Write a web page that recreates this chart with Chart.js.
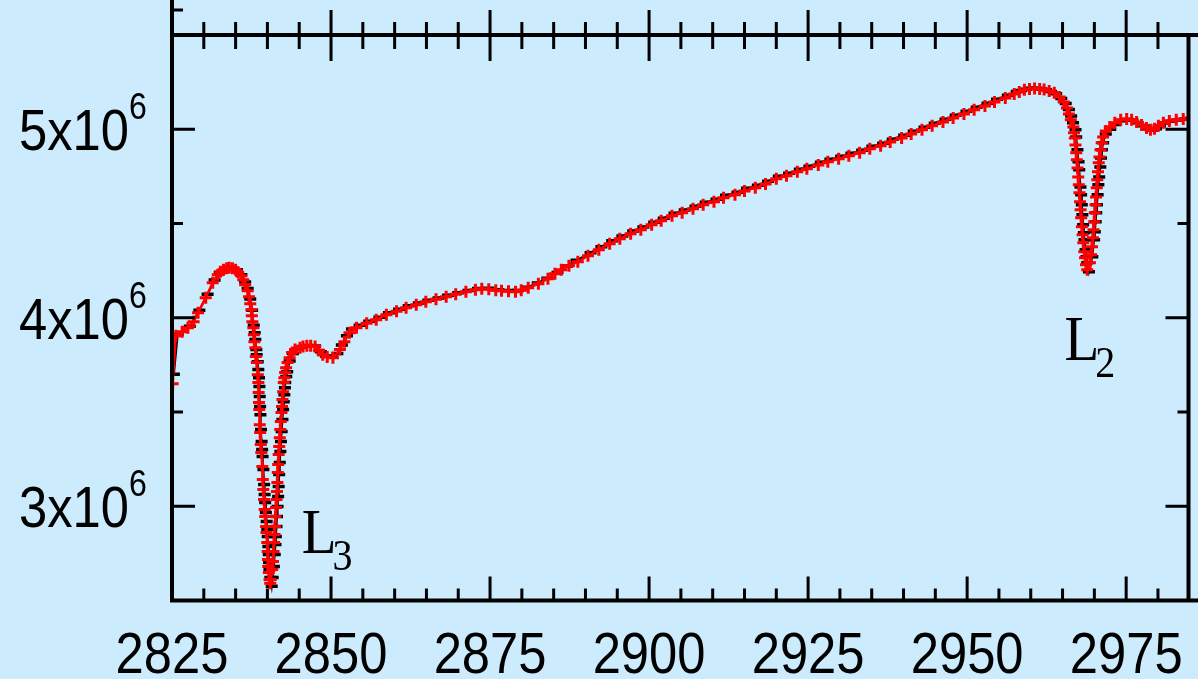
<!DOCTYPE html>
<html>
<head>
<meta charset="utf-8">
<script src="https://cdn.jsdelivr.net/npm/chart.js@4.4.0/dist/chart.umd.min.js"></script>
<style>
  html, body { margin: 0; padding: 0; background: #ccebfc; }
  #wrap { width: 1198px; height: 679px; position: relative; }
</style>
</head>
<body>
<div id="wrap"><canvas id="spectrum"></canvas></div>
<script>
// axis ranges (energy in eV, intensity in units of 10^6)
const xMin = 2825, xMax = 2984.8;
const yMin = 2.5, yMax = 5.5;
const xTickLabels = [2825, 2850, 2875, 2900, 2925, 2950, 2975];
const yTickLabels = [3, 4, 5];
const yTickExponent = '6';

// edge labels: [main, subscript, x, y of baseline]
const edgeLabels = [
    ['L', '3', 2845.4, 2.752],
    ['L', '2', 2965.3, 3.776]
];

// red series (crosses + line)
const redSeries = [
    [2825.1, 3.65], [2825.6, 3.905], [2826.6, 3.926], [2827.5, 3.947], [2828.4, 3.979],
    [2829.1, 4.027], [2830.3, 4.106], [2831.4, 4.186], [2832.2, 4.228], [2832.6, 4.244],
    [2833.1, 4.255], [2833.6, 4.263], [2834.0, 4.265], [2834.5, 4.263], [2835.0, 4.255],
    [2835.4, 4.241], [2835.9, 4.223], [2836.2, 4.202], [2836.5, 4.175], [2836.9, 4.143],
    [2837.1, 4.112], [2837.3, 4.074], [2837.48, 4.043], [2837.55, 4.011], [2837.64, 3.979],
    [2837.79, 3.947], [2837.87, 3.910], [2837.95, 3.873], [2838.10, 3.841], [2838.18, 3.794],
    [2838.34, 3.762], [2838.49, 3.698], [2838.57, 3.656], [2838.62, 3.603], [2838.67, 3.550],
    [2838.72, 3.513], [2838.80, 3.433], [2838.86, 3.391], [2838.96, 3.327], [2839.04, 3.285],
    [2839.20, 3.211], [2839.27, 3.142], [2839.35, 3.089], [2839.46, 3.036], [2839.57, 2.983],
    [2839.66, 2.946], [2839.79, 2.893], [2839.85, 2.861], [2839.98, 2.808], [2840.04, 2.760],
    [2840.09, 2.718], [2840.13, 2.681], [2840.23, 2.649], [2840.34, 2.612], [2840.44, 2.591],
    [2840.52, 2.612], [2840.76, 2.665], [2840.88, 2.707], [2840.96, 2.760], [2841.04, 2.808],
    [2841.12, 2.850], [2841.19, 2.893], [2841.27, 2.946], [2841.35, 2.993], [2841.44, 3.036],
    [2841.51, 3.078], [2841.57, 3.126], [2841.63, 3.179], [2841.69, 3.221], [2841.77, 3.274],
    [2841.85, 3.317], [2841.94, 3.364], [2842.02, 3.407], [2842.10, 3.449], [2842.21, 3.497],
    [2842.29, 3.529], [2842.36, 3.566], [2842.47, 3.608], [2842.57, 3.656], [2842.66, 3.682],
    [2842.78, 3.709], [2842.94, 3.735], [2843.17, 3.762], [2843.49, 3.788], [2843.88, 3.815],
    [2844.34, 3.831], [2845.12, 3.841], [2845.6, 3.848], [2846.2, 3.852], [2846.8, 3.851],
    [2847.5, 3.847], [2848.1, 3.828], [2848.7, 3.804], [2849.4, 3.792], [2850.3, 3.788],
    [2851.4, 3.831], [2852.1, 3.873], [2852.9, 3.921], [2854.0, 3.947], [2855.6, 3.971],
    [2857.1, 3.990], [2858.7, 4.016], [2860.3, 4.035], [2861.8, 4.053], [2863.4, 4.069],
    [2864.9, 4.085], [2866.5, 4.098], [2868.1, 4.112], [2869.6, 4.125], [2871.2, 4.138],
    [2872.7, 4.149], [2873.7, 4.154], [2874.8, 4.151], [2875.9, 4.146], [2876.8, 4.143],
    [2877.9, 4.141], [2879.0, 4.138], [2879.9, 4.146], [2881.0, 4.159], [2882.6, 4.180],
    [2884.1, 4.207], [2885.2, 4.233], [2886.2, 4.255], [2887.4, 4.276], [2888.8, 4.297],
    [2890.4, 4.329], [2892.1, 4.361], [2893.8, 4.392], [2895.4, 4.419], [2897.1, 4.446],
    [2898.7, 4.467], [2900.4, 4.493], [2901.9, 4.514], [2903.6, 4.541], [2905.2, 4.557],
    [2906.9, 4.578], [2908.5, 4.599], [2910.2, 4.615], [2911.7, 4.636], [2913.5, 4.652],
    [2915.0, 4.673], [2916.7, 4.689], [2918.3, 4.710], [2920.0, 4.737], [2921.6, 4.753],
    [2923.3, 4.774], [2924.8, 4.790], [2926.6, 4.811], [2928.1, 4.827], [2929.8, 4.843],
    [2931.4, 4.859], [2933.1, 4.875], [2934.7, 4.896], [2936.4, 4.912], [2937.9, 4.933],
    [2939.7, 4.954], [2941.2, 4.975], [2942.9, 4.997], [2944.5, 5.018], [2946.2, 5.039],
    [2947.8, 5.060], [2949.5, 5.081], [2951.1, 5.103], [2952.8, 5.124], [2954.3, 5.145],
    [2956.0, 5.166], [2957.4, 5.187], [2958.2, 5.198], [2959.0, 5.209], [2959.8, 5.214],
    [2960.6, 5.216], [2961.4, 5.214], [2962.1, 5.211], [2962.9, 5.203], [2963.7, 5.193],
    [2964.5, 5.171], [2965.2, 5.145], [2965.7, 5.113], [2966.0, 5.081], [2966.3, 5.050],
    [2966.7, 5.012], [2966.8, 4.981], [2966.93, 4.954], [2967.04, 4.917], [2967.15, 4.875],
    [2967.25, 4.838], [2967.36, 4.795], [2967.46, 4.747], [2967.56, 4.705], [2967.65, 4.663],
    [2967.75, 4.615], [2967.84, 4.573], [2967.93, 4.530], [2968.04, 4.483], [2968.15, 4.440],
    [2968.26, 4.398], [2968.42, 4.350], [2968.54, 4.318], [2968.68, 4.281], [2968.88, 4.255],
    [2969.31, 4.292], [2969.49, 4.334], [2969.63, 4.377], [2969.76, 4.424], [2969.87, 4.467],
    [2969.98, 4.509], [2970.07, 4.557], [2970.18, 4.599], [2970.27, 4.641], [2970.37, 4.689],
    [2970.46, 4.732], [2970.57, 4.774], [2970.69, 4.822], [2970.80, 4.853], [2970.96, 4.891],
    [2971.15, 4.928], [2971.38, 4.959], [2971.80, 4.991], [2972.43, 5.012], [2973.21, 5.034],
    [2974.14, 5.050], [2975.08, 5.055], [2975.86, 5.050], [2976.64, 5.039], [2977.42, 5.023],
    [2978.20, 5.007], [2978.82, 4.997], [2979.45, 5.002], [2980.07, 5.018], [2980.85, 5.034],
    [2981.79, 5.044], [2982.88, 5.050], [2983.97, 5.055], [2985.22, 5.060]
];

// black series (dashes), sits just under/right of the red one
const blackSeries = [
    [2825.3, 3.70], [2825.9, 3.912], [2827.8, 3.955], [2829.3, 4.040], [2830.6, 4.125],
    [2831.7, 4.200], [2832.5, 4.240], [2833.4, 4.260], [2834.3, 4.268], [2835.2, 4.255],
    [2835.9, 4.228], [2836.5, 4.190], [2836.9, 4.155], [2837.3, 4.100], [2837.6, 4.040],
    [2837.85, 3.960], [2838.0, 3.920], [2838.10, 3.884], [2838.26, 3.831], [2838.31, 3.804],
    [2838.48, 3.767], [2838.57, 3.725], [2838.68, 3.682], [2838.74, 3.635], [2838.79, 3.582],
    [2838.85, 3.529], [2838.90, 3.486], [2838.99, 3.407], [2839.09, 3.343], [2839.17, 3.301],
    [2839.24, 3.264], [2839.37, 3.195], [2839.48, 3.115], [2839.56, 3.062], [2839.65, 3.020],
    [2839.76, 2.967], [2839.88, 2.919], [2839.98, 2.877], [2840.05, 2.840], [2840.15, 2.787],
    [2840.21, 2.744], [2840.26, 2.702], [2840.32, 2.665], [2840.46, 2.622], [2840.68, 2.575],
    [2840.83, 2.622], [2841.02, 2.681], [2841.15, 2.744], [2841.26, 2.797], [2841.33, 2.840],
    [2841.43, 2.893], [2841.51, 2.946], [2841.60, 2.999], [2841.69, 3.052], [2841.77, 3.105],
    [2841.85, 3.168], [2841.94, 3.232], [2842.04, 3.290], [2842.13, 3.343], [2842.24, 3.396],
    [2842.36, 3.460], [2842.47, 3.513], [2842.57, 3.555], [2842.66, 3.592], [2842.75, 3.629],
    [2842.80, 3.656], [2842.96, 3.688], [2843.11, 3.714], [2843.5, 3.770], [2844.0, 3.810],
    [2844.7, 3.835], [2845.5, 3.848], [2846.5, 3.853], [2847.5, 3.850], [2848.4, 3.820],
    [2849.2, 3.797], [2850.2, 3.790], [2851.0, 3.810], [2851.7, 3.855], [2852.5, 3.905],
    [2853.3, 3.940], [2854.5, 3.960], [2856.0, 3.982], [2857.6, 4.002], [2859.1, 4.027],
    [2860.7, 4.045], [2862.2, 4.063], [2863.8, 4.078], [2865.3, 4.093], [2866.9, 4.105],
    [2868.4, 4.120], [2870.0, 4.133], [2871.6, 4.145], [2873.1, 4.155], [2874.7, 4.156],
    [2876.3, 4.148], [2877.8, 4.145], [2879.4, 4.145], [2880.9, 4.162], [2882.5, 4.185],
    [2884.0, 4.210], [2885.6, 4.240], [2887.1, 4.275], [2888.6, 4.305], [2890.8, 4.345],
    [2892.5, 4.377], [2894.2, 4.408], [2895.8, 4.434], [2897.5, 4.460], [2899.1, 4.481],
    [2900.8, 4.507], [2902.3, 4.528], [2904.0, 4.555], [2905.6, 4.571], [2907.3, 4.592],
    [2908.9, 4.613], [2910.6, 4.629], [2912.1, 4.650], [2913.9, 4.666], [2915.4, 4.687],
    [2917.1, 4.703], [2918.7, 4.724], [2920.4, 4.751], [2922.0, 4.767], [2923.7, 4.788],
    [2925.2, 4.804], [2927.0, 4.825], [2928.5, 4.841], [2930.2, 4.857], [2931.8, 4.873],
    [2933.5, 4.889], [2935.1, 4.910], [2936.8, 4.926], [2938.3, 4.947], [2940.1, 4.968],
    [2941.6, 4.989], [2943.3, 5.011], [2944.9, 5.032], [2946.6, 5.053], [2948.2, 5.074],
    [2949.9, 5.095], [2951.5, 5.117], [2953.2, 5.138], [2954.7, 5.159], [2956.4, 5.180],
    [2957.8, 5.200], [2958.5, 5.205], [2959.3, 5.212], [2960.1, 5.218], [2960.9, 5.218],
    [2961.7, 5.214], [2962.4, 5.209], [2963.2, 5.200], [2964.0, 5.188], [2964.8, 5.163],
    [2965.5, 5.136], [2966.0, 5.105], [2966.35, 5.070], [2966.65, 5.035], [2967.04, 4.997],
    [2967.15, 4.959], [2967.34, 4.891], [2967.51, 4.827], [2967.62, 4.785], [2967.82, 4.694],
    [2967.92, 4.652], [2968.03, 4.599], [2968.12, 4.546], [2968.24, 4.493], [2968.35, 4.451],
    [2968.45, 4.414], [2968.62, 4.361], [2968.76, 4.324], [2968.88, 4.292], [2969.15, 4.244],
    [2969.68, 4.324], [2969.96, 4.414], [2970.07, 4.456], [2970.21, 4.509], [2970.30, 4.557],
    [2970.41, 4.599], [2970.52, 4.652], [2970.63, 4.705], [2970.76, 4.747], [2970.94, 4.800],
    [2971.05, 4.848], [2971.19, 4.891], [2971.38, 4.928], [2971.8, 4.975], [2972.5, 5.000],
    [2973.3, 5.025], [2974.2, 5.045], [2975.2, 5.052], [2976.0, 5.048], [2976.8, 5.035],
    [2977.6, 5.018], [2978.4, 5.003], [2979.1, 4.996], [2979.7, 5.003], [2980.3, 5.017],
    [2981.1, 5.033], [2982.1, 5.043], [2983.2, 5.049], [2984.3, 5.054], [2985.3, 5.058]
];

// text in the figure is squeezed horizontally
const SQUEEZE = 0.89;

function squeezedText(ctx, text, x, y, align) {
    ctx.save();
    ctx.translate(x, y);
    ctx.scale(SQUEEZE, 1);
    ctx.textAlign = align;
    ctx.fillText(text, 0, 0);
    ctx.restore();
}

// frame, inward ticks, labels -- drawn by hand from the scales
const axesFrame = {
    id: 'axesFrame',
    afterDatasetsDraw(chart) {
        const ctx = chart.ctx;
        const a = chart.chartArea;
        const xs = chart.scales.x;
        const ys = chart.scales.y;
        ctx.save();
        ctx.strokeStyle = '#000';
        ctx.fillStyle = '#000';
        ctx.lineCap = 'butt';

        ctx.lineWidth = 4;
        ctx.beginPath();
        ctx.moveTo(a.left, 0); ctx.lineTo(a.left, a.bottom + 2);
        ctx.moveTo(a.left - 2, a.bottom); ctx.lineTo(chart.width, a.bottom);
        ctx.moveTo(a.left - 2, a.top); ctx.lineTo(chart.width, a.top);
        ctx.moveTo(a.right, a.top); ctx.lineTo(a.right, a.bottom);
        ctx.stroke();

        ctx.lineWidth = 3;
        ctx.beginPath();
        for (let v = xMin; v <= xMax; v += 5) {
            const px = xs.getPixelForValue(v);
            const major = v % 25 === 0;
            ctx.moveTo(px, a.bottom);
            ctx.lineTo(px, a.bottom - (major ? 24 : 12));
            // bottom axis of the panel above: ticks on both sides
            ctx.moveTo(px, a.top - (major ? 25 : 13));
            ctx.lineTo(px, a.top + (major ? 26 : 14));
        }
        for (let v = yMin; v <= yMax; v += 0.5) {
            const py = ys.getPixelForValue(v);
            const len = Number.isInteger(v) ? 23 : 11;
            ctx.moveTo(a.left, py); ctx.lineTo(a.left + len, py);
            ctx.moveTo(a.right, py); ctx.lineTo(a.right - len, py);
        }
        // one tick of the upper panel's y axis
        ctx.moveTo(a.left, a.top - 25); ctx.lineTo(a.left + 11, a.top - 25);
        ctx.stroke();

        ctx.textBaseline = 'alphabetic';
        ctx.font = '57px "Liberation Sans", Arial, sans-serif';
        xTickLabels.forEach(v => {
            squeezedText(ctx, String(v), xs.getPixelForValue(v), a.bottom + 72.5, 'center');
        });
        yTickLabels.forEach(v => {
            const py = ys.getPixelForValue(v);
            ctx.font = '57px "Liberation Sans", Arial, sans-serif';
            squeezedText(ctx, v + 'x10', a.left - 43, py + 21, 'right');
            ctx.font = '36px "Liberation Sans", Arial, sans-serif';
            squeezedText(ctx, yTickExponent, a.left - 43, py - 10, 'left');
        });

        edgeLabels.forEach(([main, sub, vx, vy]) => {
            const px = xs.getPixelForValue(vx);
            const py = ys.getPixelForValue(vy);
            ctx.font = '64px "Liberation Serif", "Times New Roman", serif';
            squeezedText(ctx, main, px, py, 'left');
            const w = ctx.measureText(main).width * SQUEEZE;
            ctx.font = '45px "Liberation Serif", "Times New Roman", serif';
            squeezedText(ctx, sub, px + w - 4, py + 17, 'left');
        });
        ctx.restore();
    }
};

const ctx = document.getElementById('spectrum').getContext('2d');
const chart = new Chart(ctx, {
    type: 'line',
    data: {
        datasets: [{
            label: 'red',
            data: redSeries.map(([x, y]) => ({x: x, y: y})),
            borderColor: '#ff0000',
            backgroundColor: '#ff0000',
            borderWidth: 2.5,
            pointStyle: 'cross',
            pointRadius: 6,
            pointBorderWidth: 3,
            tension: 0,
            order: 0
        }, {
            label: 'black',
            data: blackSeries.map(([x, y]) => ({x: x, y: y})),
            borderColor: '#000000',
            backgroundColor: '#000000',
            borderWidth: 2,
            pointStyle: 'line',
            pointRadius: 6,
            pointBorderWidth: 3.5,
            tension: 0,
            order: 1
        }]
    },
    options: {
        responsive: true,
        maintainAspectRatio: false,
        animation: false,
        devicePixelRatio: 1,
        layout: {
            padding: {left: 172, top: 35, right: 1.5, bottom: 78.5}
        },
        scales: {
            x: {type: 'linear', min: xMin, max: xMax, display: false},
            y: {type: 'linear', min: yMin, max: yMax, display: false}
        },
        plugins: {
            legend: {display: false},
            tooltip: {enabled: false}
        }
    },
    plugins: [axesFrame]
});
</script>
</body>
</html>
